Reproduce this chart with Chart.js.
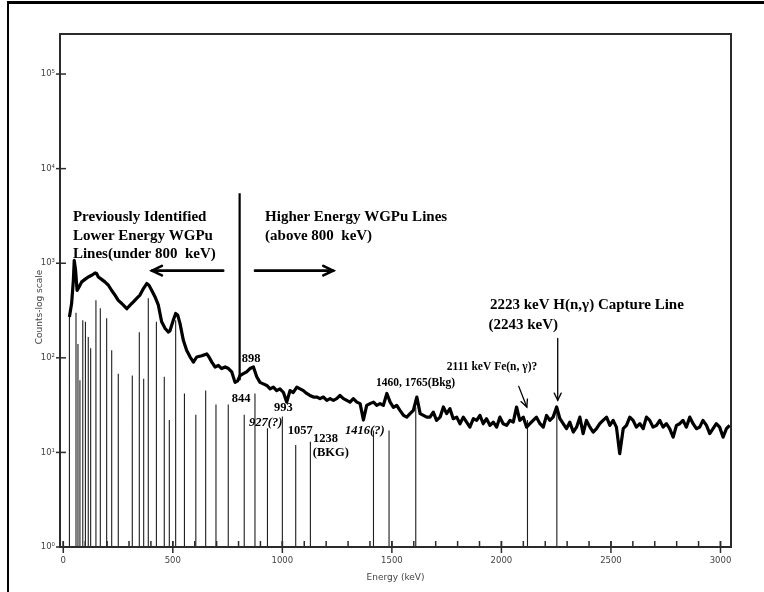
<!DOCTYPE html>
<html><head><meta charset="utf-8">
<script src="https://cdn.jsdelivr.net/npm/chart.js@4.4.1/dist/chart.umd.min.js"></script>
<style>html,body{margin:0;padding:0;background:#fff;overflow:hidden}canvas{display:block}</style>
</head><body><canvas id="c" width="764" height="592"></canvas>
<script>
// ---- data ----
const spectrumEnergy = [28,38,46,50,56,63,72,84,99,114,130,145,152,160,175,190,206,221,236,251,267,282,290,305,320,335,350,366,381,391,404,419,434,449,465,480,487,502,513,522,533,548,563,579,594,609,632,655,665,678,693,708,723,739,754,769,784,796,807,822,837,852,868,883,898,913,929,944,959,974,989,1005,1020,1035,1050,1066,1081,1096,1111,1126,1142,1157,1172,1187,1203,1218,1233,1248,1263,1279,1294,1309,1324,1340,1355,1370,1385,1400,1416,1431,1446,1461,1477,1492,1507,1522,1537,1553,1568,1583,1598,1614,1629,1644,1659,1674,1689,1704,1720,1735,1750,1765,1780,1796,1811,1826,1841,1856,1872,1887,1902,1917,1932,1948,1963,1978,1993,2008,2024,2039,2054,2069,2084,2100,2115,2130,2145,2160,2176,2191,2206,2221,2236,2252,2267,2282,2297,2312,2328,2343,2358,2373,2388,2404,2419,2434,2449,2464,2480,2495,2510,2525,2540,2556,2571,2586,2601,2616,2632,2647,2662,2677,2692,2708,2723,2738,2753,2768,2784,2799,2814,2829,2844,2860,2875,2890,2905,2920,2936,2951,2966,2981,2996,3012,3027,3042];
const spectrumCounts = [270,375,660,1070,850,515,560,635,675,716,746,789,777,716,675,635,585,515,460,405,375,345,330,360,390,425,460,540,610,585,515,440,360,240,204,187,193,250,294,284,230,153,120,102,90,102,105,110,102,90,80,83,77,80,77,71,55,57,65,68,71,77,80,63,55,53,51,47,49,45,47,43,34,45,43,49,47,45,42,40,38.5,38.5,37,38.5,35.5,37,35.5,37,40,37,35.5,34,37,34,32.8,22,31.4,32.8,34,31.4,32.8,31.4,42,34,30,31.4,27.8,24.6,23.6,25.7,27.8,38.5,25.7,24.6,23.6,23.6,26.7,21.8,23.6,30.2,25.7,29,22.7,23.6,20.1,23.6,20.9,18.5,22.7,21.8,24.6,20.1,22.7,19.3,20.9,18.5,23.6,20.1,19.3,21.8,20.9,30.2,21.8,23.6,18.5,20.1,21.8,23.6,20.1,18.5,24.6,21.8,23.6,30.2,22.7,20.1,17.8,20.9,16.4,18.5,23.6,15.8,21.8,18.5,16.4,17.8,20.1,21.8,23.6,19.3,21.8,18.5,9.7,17.8,19.3,23.6,21.8,18.5,20.1,17.8,23.6,21.8,18.5,19.3,21.8,18.5,20.1,17.8,14.5,19.3,20.1,21.8,18.5,23.6,20.1,17.8,18.5,21.8,19.3,15.8,17.8,20.1,18.5,14.5,17.8,19.3];

const lineEnergy = [28,58,67,76,89,101,114,125,149,169,198,221,251,315,347,367,388,425,461,484,513,553,605,650,697,753,826,875,932,1000,1061,1128,1416,1487,1609,2119,2253];
const lineCounts = [270,300,140,58,250,240,166,126,405,334,262,120,68,65,186,60,427,240,63,22,250,42,25,45,32,32,25,42,18,24,12,13,17,17,30,22,30];

const dividerEnergy = 805;
const dividerCounts = [5500, 58];

const xTickValues = [0,500,1000,1500,2000,2500,3000];
const xMinorStep = 100;
const yTickValues = [1,10,100,1000,10000,100000];
const yTickLabels = ['10\u2070','10\u00B9','10\u00B2','10\u00B3','10\u2074','10\u2075'];

// ---- annotations (anchored in data space) ----
const bigFont = 'bold 15px "Liberation Serif"';
const numFont = 'bold 12.5px "Liberation Serif"';
const numItalic = 'italic bold 12.5px "Liberation Serif"';
const smallFont = 'bold 11.5px "Liberation Serif"';
const notes = [
  ['Previously Identified', 44, 3070, bigFont],
  ['Lower Energy WGPu', 44, 1930, bigFont],
  ['Lines(under 800  keV)', 44, 1245, bigFont],
  ['Higher Energy WGPu Lines', 921, 3070, bigFont],
  ['(above 800  keV)', 921, 1930, bigFont],
  ['898', 815, 98, numFont],
  ['844', 769, 37, numFont],
  ['993', 962, 30, numFont],
  ['927(?)', 848, 20.6, numItalic],
  ['1057', 1025, 17.1, numFont],
  ['1238', 1140, 14.0, numFont],
  ['(BKG)', 1139, 9.8, numFont],
  ['1416(?)', 1286, 17.1, numItalic],
  ['1460, 1765(Bkg)', 1427, 54.6, smallFont],
  ['2111 keV Fe(n, \u03B3)?', 1751, 80, smallFont],
  ['2223 keV H(n,\u03B3) Capture Line', 1948, 360, bigFont],
  ['(2243 keV)', 1941, 221, bigFont]
];
// arrows: [x1, y1, x2, y2, lineWidth, headLen]
const arrows = [
  [730, 835, 405, 835, 2.6, 11],
  [875, 835, 1232, 835, 2.6, 11],
  [2079, 49.9, 2116, 30.2, 1.3, 8],
  [2257, 160, 2257, 35.5, 1.3, 8]
];

const segData = [];
lineEnergy.forEach((e, i) => {
  segData.push({x: e, y: 1}, {x: e, y: lineCounts[i]}, {x: e, y: null});
});

const deco = {
  id: 'deco',
  beforeDraw(chart) {
    const c = chart.ctx;
    c.save();
    c.fillStyle = '#fff';
    c.fillRect(0, 0, chart.width, chart.height);
    c.strokeStyle = '#000';
    c.lineWidth = 3;
    c.beginPath(); c.moveTo(7, 2.5); c.lineTo(chart.width, 2.5); c.stroke();
    c.lineWidth = 2;
    c.beginPath(); c.moveTo(8, 1); c.lineTo(8, chart.height); c.stroke();
    c.restore();
  },
  afterDraw(chart) {
    const c = chart.ctx, a = chart.chartArea;
    const xs = chart.scales.x, ys = chart.scales.y;
    c.save();
    c.strokeStyle = '#2b2b2b';
    c.lineWidth = 2;
    c.strokeRect(a.left, a.top, a.right - a.left, a.bottom - a.top);
    c.lineWidth = 1.5;
    yTickValues.forEach(v => {
      const y = ys.getPixelForValue(v);
      c.beginPath(); c.moveTo(a.left - 4, y); c.lineTo(a.left + 6, y); c.stroke();
    });
    for (let v = xTickValues[0]; v <= xTickValues[xTickValues.length - 1]; v += xMinorStep) {
      const x = xs.getPixelForValue(v);
      c.beginPath(); c.moveTo(x, a.bottom - 6); c.lineTo(x, a.bottom); c.stroke();
    }
    xTickValues.forEach(v => {
      const x = xs.getPixelForValue(v);
      c.beginPath(); c.moveTo(x, a.bottom - 6); c.lineTo(x, a.bottom + 6); c.stroke();
    });
    c.fillStyle = '#444';
    c.font = '9px "DejaVu Sans"';
    c.textAlign = 'center'; c.textBaseline = 'middle';
    c.fillText('Energy (keV)', (a.left + a.right) / 2, 578);
    c.save();
    c.translate(40, 307); c.rotate(-Math.PI / 2);
    c.fillText('Counts-log scale', 0, 0);
    c.restore();
    c.fillStyle = '#000';
    c.textAlign = 'left'; c.textBaseline = 'middle';
    notes.forEach(n => {
      c.font = n[3];
      c.fillText(n[0], xs.getPixelForValue(n[1]), ys.getPixelForValue(n[2]));
    });
    c.strokeStyle = '#000';
    c.lineCap = 'round';
    arrows.forEach(ar => {
      const x1 = xs.getPixelForValue(ar[0]), y1 = ys.getPixelForValue(ar[1]);
      const x2 = xs.getPixelForValue(ar[2]), y2 = ys.getPixelForValue(ar[3]);
      c.lineWidth = ar[4];
      const ang = Math.atan2(y2 - y1, x2 - x1), h = ar[5];
      c.beginPath(); c.moveTo(x1, y1); c.lineTo(x2, y2); c.stroke();
      c.beginPath();
      c.moveTo(x2 - h * Math.cos(ang - 0.45), y2 - h * Math.sin(ang - 0.45));
      c.lineTo(x2, y2);
      c.lineTo(x2 - h * Math.cos(ang + 0.45), y2 - h * Math.sin(ang + 0.45));
      c.stroke();
    });
    c.restore();
  }
};

new Chart(document.getElementById('c'), {
  type: 'scatter',
  data: {
    datasets: [
      {
        data: spectrumEnergy.map((e, i) => ({x: e, y: spectrumCounts[i]})),
        showLine: true, borderColor: '#000', borderWidth: 3.2, pointRadius: 0,
        borderJoinStyle: 'round', order: 0
      },
      {
        data: [{x: dividerEnergy, y: dividerCounts[0]}, {x: dividerEnergy, y: dividerCounts[1]}],
        showLine: true, borderColor: '#000', borderWidth: 2.2, pointRadius: 0, order: 1
      },
      {
        data: segData, showLine: true, spanGaps: false, borderColor: '#1e1e1e',
        borderWidth: 1.1, pointRadius: 0, order: 2
      }
    ]
  },
  options: {
    responsive: false,
    animation: false,
    events: [],
    layout: {padding: {left: 0, right: 33, top: 34, bottom: 0}},
    plugins: {legend: {display: false}, tooltip: {enabled: false}},
    scales: {
      x: {
        type: 'linear', min: -15, max: 3048,
        grid: {display: false, drawTicks: false}, border: {display: false},
        afterBuildTicks: s => { s.ticks = xTickValues.map(v => ({value: v})); },
        afterFit: s => { s.height = 45; },
        ticks: {autoSkip: false, maxRotation: 0, padding: 9, color: '#444',
          font: {family: 'DejaVu Sans', size: 8.5}, callback: v => String(v)}
      },
      y: {
        type: 'logarithmic', min: 1, max: 265000,
        grid: {display: false, drawTicks: false}, border: {display: false},
        afterBuildTicks: s => { s.ticks = yTickValues.map(v => ({value: v})); },
        afterFit: s => { s.width = 60; },
        ticks: {autoSkip: false, padding: 5, color: '#444',
          font: {family: 'DejaVu Sans', size: 8.5},
          callback: v => { const k = yTickValues.indexOf(v); return k >= 0 ? yTickLabels[k] : ''; }}
      }
    }
  },
  plugins: [deco]
});
</script></body></html>
